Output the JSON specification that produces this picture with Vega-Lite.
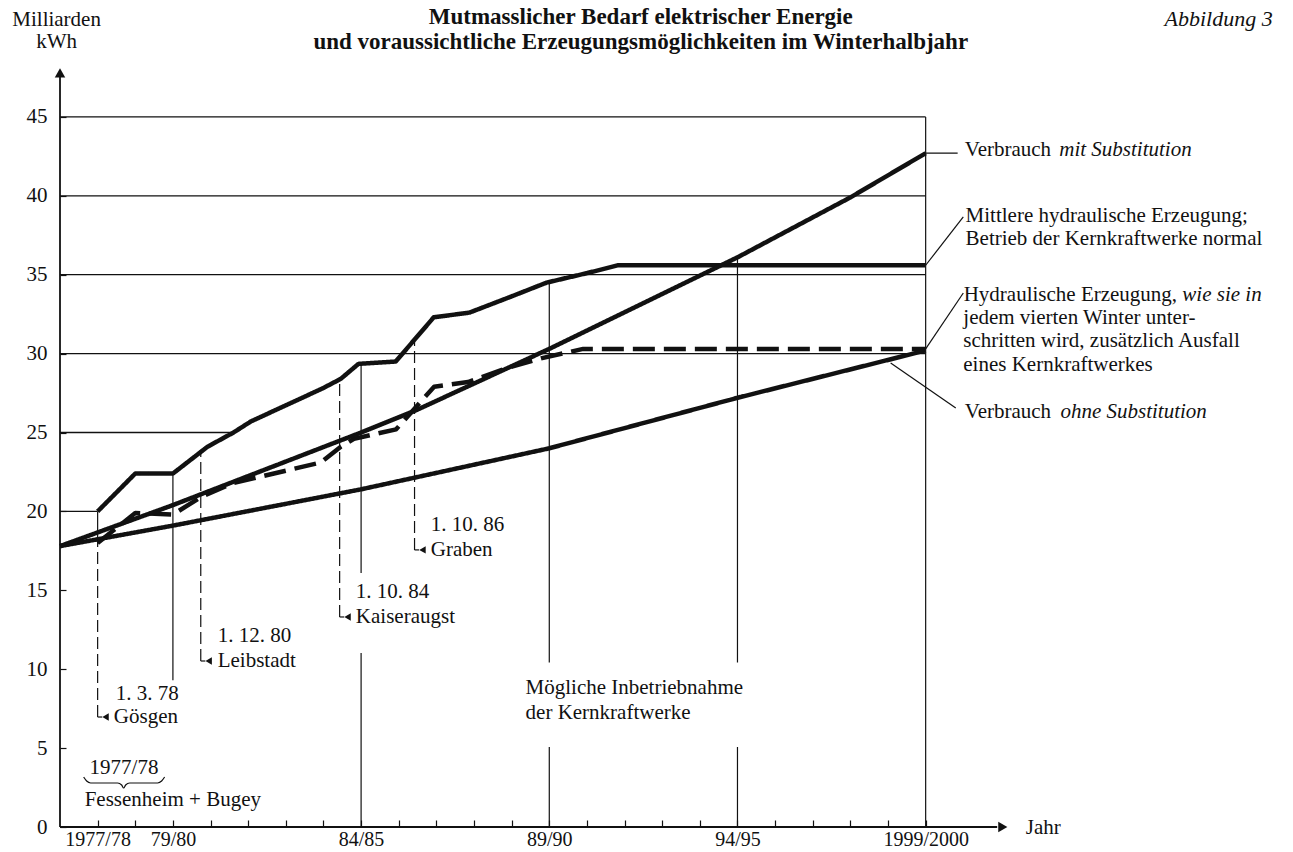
{
  "$schema": "https://vega.github.io/schema/vega-lite/v6.json",
  "width": 1233,
  "height": 827,
  "autosize": "none",
  "padding": {"left": 60, "top": 0, "right": 0, "bottom": 25},
  "background": "white",
  "config": {
    "view": {"stroke": null},
    "text": {"font": "Liberation Serif", "fontSize": 21, "color": "#111"}
  },
  "datasets": {
    "series": [
      {"series": "normal", "x": 0, "y": 20.0},
      {"series": "normal", "x": 1, "y": 22.4},
      {"series": "normal", "x": 2, "y": 22.4},
      {"series": "normal", "x": 2.92, "y": 24.1},
      {"series": "normal", "x": 3.61, "y": 25.0},
      {"series": "normal", "x": 4.07, "y": 25.7},
      {"series": "normal", "x": 5.98, "y": 27.8},
      {"series": "normal", "x": 6.46, "y": 28.4},
      {"series": "normal", "x": 6.93, "y": 29.35},
      {"series": "normal", "x": 7.92, "y": 29.5},
      {"series": "normal", "x": 8.93, "y": 32.3},
      {"series": "normal", "x": 9.88, "y": 32.6},
      {"series": "normal", "x": 10.97, "y": 33.6},
      {"series": "normal", "x": 11.93, "y": 34.5},
      {"series": "normal", "x": 13, "y": 35.1},
      {"series": "normal", "x": 13.83, "y": 35.6},
      {"series": "normal", "x": 22, "y": 35.6},
      {"series": "trocken", "x": 0, "y": 18.0},
      {"series": "trocken", "x": 1, "y": 19.9},
      {"series": "trocken", "x": 2, "y": 19.8},
      {"series": "trocken", "x": 2.74, "y": 20.9},
      {"series": "trocken", "x": 3.6, "y": 21.8},
      {"series": "trocken", "x": 5.93, "y": 23.1},
      {"series": "trocken", "x": 6.46, "y": 24.1},
      {"series": "trocken", "x": 6.81, "y": 24.6},
      {"series": "trocken", "x": 7.93, "y": 25.2},
      {"series": "trocken", "x": 8.6, "y": 27.0},
      {"series": "trocken", "x": 8.94, "y": 27.9},
      {"series": "trocken", "x": 9.84, "y": 28.2},
      {"series": "trocken", "x": 10.9, "y": 29.1},
      {"series": "trocken", "x": 11.78, "y": 29.7},
      {"series": "trocken", "x": 12.9, "y": 30.3},
      {"series": "trocken", "x": 22, "y": 30.3},
      {"series": "mit", "x": -1, "y": 17.8},
      {"series": "mit", "x": 2, "y": 20.4},
      {"series": "mit", "x": 7, "y": 25.0},
      {"series": "mit", "x": 8.45, "y": 26.4},
      {"series": "mit", "x": 12, "y": 30.3},
      {"series": "mit", "x": 17, "y": 36.1},
      {"series": "mit", "x": 20, "y": 39.9},
      {"series": "mit", "x": 22, "y": 42.7},
      {"series": "ohne", "x": -1, "y": 17.8},
      {"series": "ohne", "x": 2, "y": 19.1},
      {"series": "ohne", "x": 7, "y": 21.4},
      {"series": "ohne", "x": 12, "y": 24.0},
      {"series": "ohne", "x": 17, "y": 27.2},
      {"series": "ohne", "x": 22, "y": 30.2}
    ],
    "grid": [
      {"y": 20, "x": -1, "x2": 0},
      {"y": 25, "x": -1, "x2": 3.61},
      {"y": 30, "x": -1, "x2": 22},
      {"y": 35, "x": -1, "x2": 22},
      {"y": 40, "x": -1, "x2": 22},
      {"y": 45, "x": -1, "x2": 22}
    ],
    "vsolid": [
      {"x": 0, "y": 18.0, "y2": 20},
      {"x": 2, "y": 9.3, "y2": 22.4},
      {"x": 7, "y": 16.1, "y2": 29.36},
      {"x": 7, "y": 0, "y2": 11.03},
      {"x": 12, "y": 10.43, "y2": 34.55},
      {"x": 12, "y": 0, "y2": 5.07},
      {"x": 17, "y": 10.43, "y2": 36.1},
      {"x": 17, "y": 0, "y2": 5.07},
      {"x": 22, "y": 0, "y2": 45}
    ],
    "vdash": [
      {"x": 0, "y": 6.97, "y2": 18.0},
      {"x": 2.74, "y": 10.52, "y2": 23.8},
      {"x": 6.43, "y": 13.31, "y2": 28.35},
      {"x": 8.42, "y": 17.56, "y2": 30.9}
    ],
    "leaders": [
      {"x": 22, "y": 42.7, "x2": 22.85, "y2": 42.7},
      {"x": 22, "y": 35.6, "x2": 23.0, "y2": 38.66},
      {"x": 22, "y": 30.3, "x2": 23.0, "y2": 33.84},
      {"x": 21.07, "y": 29.41, "x2": 22.8, "y2": 26.56},
      {"x": 0, "y": 6.97, "x2": 0.12, "y2": 6.97},
      {"x": 2.74, "y": 10.52, "x2": 2.86, "y2": 10.52},
      {"x": 6.43, "y": 13.31, "x2": 6.55, "y2": 13.31},
      {"x": 8.42, "y": 17.56, "x2": 8.54, "y2": 17.56}
    ],
    "axes": [
      {"x": -1, "y": 0, "x2": 23.9, "y2": 0},
      {"x": -1, "y": 0, "x2": -1, "y2": 47.6}
    ],
    "hooks": [
      {"x": 0.21, "y": 6.97},
      {"x": 2.95, "y": 10.52},
      {"x": 6.64, "y": 13.31},
      {"x": 8.63, "y": 17.56}
    ],
    "arrowRight": [{"x": 24.05, "y": 0}],
    "arrowUp": [{"x": -1, "y": 47.79}],
    "brace": [
      {"x": -0.372, "y": 3.169},
      {"x": -0.292, "y": 2.915},
      {"x": -0.186, "y": 2.789},
      {"x": 0.531, "y": 2.789},
      {"x": 0.638, "y": 2.662},
      {"x": 0.691, "y": 2.472},
      {"x": 0.744, "y": 2.662},
      {"x": 0.85, "y": 2.789},
      {"x": 1.594, "y": 2.789},
      {"x": 1.7, "y": 2.915},
      {"x": 1.78, "y": 3.169}
    ],
    "txtLeft": [
      {"x": 23.04, "y": 42.91, "t": "Verbrauch"},
      {"x": 23.06, "y": 38.72, "t": "Mittlere hydraulische Erzeugung;"},
      {"x": 23.06, "y": 37.26, "t": "Betrieb der Kernkraftwerke normal"},
      {"x": 23.01, "y": 33.72, "t": "Hydraulische Erzeugung,"},
      {"x": 23.0, "y": 32.26, "t": "jedem vierten Winter unter-"},
      {"x": 23.0, "y": 30.8, "t": "schritten wird, zusätzlich Ausfall"},
      {"x": 23.0, "y": 29.28, "t": "eines Kernkraftwerkes"},
      {"x": 23.04, "y": 26.3, "t": "Verbrauch"},
      {"x": 0.48, "y": 8.43, "t": "1. 3. 78"},
      {"x": 0.43, "y": 6.97, "t": "Gösgen"},
      {"x": 3.19, "y": 12.1, "t": "1. 12. 80"},
      {"x": 3.19, "y": 10.52, "t": "Leibstadt"},
      {"x": 6.86, "y": 14.89, "t": "1. 10. 84"},
      {"x": 6.86, "y": 13.31, "t": "Kaiseraugst"},
      {"x": 8.85, "y": 19.14, "t": "1. 10. 86"},
      {"x": 8.85, "y": 17.56, "t": "Graben"},
      {"x": 11.37, "y": 8.81, "t": "Mögliche Inbetriebnahme"},
      {"x": 11.37, "y": 7.23, "t": "der Kernkraftwerke"},
      {"x": -0.345, "y": 1.71, "t": "Fessenheim + Bugey"},
      {"x": 24.66, "y": -0.05, "t": "Jahr"}
    ],
    "txtItalic": [
      {"x": 25.55, "y": 42.91, "t": "mit Substitution"},
      {"x": 28.82, "y": 33.72, "t": "wie sie in"},
      {"x": 25.58, "y": 26.3, "t": "ohne Substitution"}
    ],
    "txtCenter": [
      {"x": -1.09, "y": 51.15, "t": "Milliarden"},
      {"x": -1.09, "y": 49.75, "t": "kWh"},
      {"x": 0.7, "y": 3.74, "t": "1977/78"}
    ],
    "title": [
      {"x": 14.43, "y": 51.34, "t": "Mutmasslicher Bedarf elektrischer Energie"},
      {"x": 14.43, "y": 49.75, "t": "und voraussichtliche Erzeugungsmöglichkeiten im Winterhalbjahr"}
    ],
    "fig": [
      {"x": 31.22, "y": 51.21, "t": "Abbildung 3"}
    ]
  },
  "layer": [
    {
      "data": {"name": "grid"},
      "mark": {"type": "rule", "color": "#111", "strokeWidth": 1.3},
      "encoding": {
        "x": {"field": "x", "type": "quantitative", "scale": {"domain": [-1, 31.76], "nice": false, "zero": false},
          "axis": {"values": [0,1,2,3,4,5,6,7,8,9,10,11,12,13,14,15,16,17,18,19,20,21,22],
            "labelExpr": "datum.value==0?'1977/78':datum.value==2?'79/80':datum.value==7?'84/85':datum.value==12?'89/90':datum.value==17?'94/95':datum.value==22?'1999/2000':''",
            "tickSize": -7, "tickColor": "#111", "tickWidth": 1.2, "domain": false, "grid": false,
            "labelFont": "Liberation Serif", "labelFontSize": 20, "labelColor": "#111", "labelPadding": 9,
            "labelOverlap": false, "labelFlush": false, "title": null}},
        "x2": {"field": "x2"},
        "y": {"field": "y", "type": "quantitative", "scale": {"domain": [0, 52.41], "nice": false, "zero": false},
          "axis": {"values": [0,5,10,15,20,25,30,35,40,45], "tickSize": -6, "tickColor": "#111", "tickWidth": 1.2,
            "domain": false, "grid": false, "labelFont": "Liberation Serif", "labelFontSize": 21, "labelColor": "#111",
            "labelPadding": 19, "title": null}}
      }
    },
    {
      "data": {"name": "vsolid"},
      "mark": {"type": "rule", "color": "#111", "strokeWidth": 1.2},
      "encoding": {
        "x": {"field": "x", "type": "quantitative", "scale": {"domain": [-1, 31.76], "nice": false, "zero": false}},
        "y": {"field": "y", "type": "quantitative", "scale": {"domain": [0, 52.41], "nice": false, "zero": false}},
        "y2": {"field": "y2"}
      }
    },
    {
      "data": {"name": "vdash"},
      "mark": {"type": "rule", "color": "#111", "strokeWidth": 1.2, "strokeDash": [12, 5]},
      "encoding": {
        "x": {"field": "x", "type": "quantitative", "scale": {"domain": [-1, 31.76], "nice": false, "zero": false}},
        "y": {"field": "y", "type": "quantitative", "scale": {"domain": [0, 52.41], "nice": false, "zero": false}},
        "y2": {"field": "y2"}
      }
    },
    {
      "data": {"name": "leaders"},
      "mark": {"type": "rule", "color": "#111", "strokeWidth": 1.2},
      "encoding": {
        "x": {"field": "x", "type": "quantitative", "scale": {"domain": [-1, 31.76], "nice": false, "zero": false}},
        "x2": {"field": "x2"},
        "y": {"field": "y", "type": "quantitative", "scale": {"domain": [0, 52.41], "nice": false, "zero": false}},
        "y2": {"field": "y2"}
      }
    },
    {
      "data": {"name": "axes"},
      "mark": {"type": "rule", "color": "#111", "strokeWidth": 1.8},
      "encoding": {
        "x": {"field": "x", "type": "quantitative", "scale": {"domain": [-1, 31.76], "nice": false, "zero": false}},
        "x2": {"field": "x2"},
        "y": {"field": "y", "type": "quantitative", "scale": {"domain": [0, 52.41], "nice": false, "zero": false}},
        "y2": {"field": "y2"}
      }
    },
    {
      "data": {"name": "series"},
      "mark": {"type": "line", "color": "#111", "strokeJoin": "round"},
      "encoding": {
        "x": {"field": "x", "type": "quantitative", "scale": {"domain": [-1, 31.76], "nice": false, "zero": false}},
        "y": {"field": "y", "type": "quantitative", "scale": {"domain": [0, 52.41], "nice": false, "zero": false}},
        "detail": {"field": "series"},
        "strokeWidth": {"field": "series", "type": "ordinal", "scale": {"domain": ["normal", "trocken", "mit", "ohne"], "range": [4.5, 4.5, 2.1, 1.8]}, "legend": null},
        "strokeDash": {"field": "series", "type": "nominal", "scale": {"domain": ["normal", "trocken", "mit", "ohne"], "range": [[1, 0], [22, 9], [1, 0], [1, 0]]}, "legend": null}
      }
    },
    {
      "data": {"name": "brace"},
      "mark": {"type": "line", "color": "#111", "strokeWidth": 1.2, "interpolate": "monotone"},
      "encoding": {
        "x": {"field": "x", "type": "quantitative", "scale": {"domain": [-1, 31.76], "nice": false, "zero": false}},
        "y": {"field": "y", "type": "quantitative", "scale": {"domain": [0, 52.41], "nice": false, "zero": false}}
      }
    },
    {
      "data": {"name": "hooks"},
      "mark": {"type": "point", "shape": "triangle-left", "filled": true, "color": "#111", "size": 55, "opacity": 1},
      "encoding": {
        "x": {"field": "x", "type": "quantitative", "scale": {"domain": [-1, 31.76], "nice": false, "zero": false}},
        "y": {"field": "y", "type": "quantitative", "scale": {"domain": [0, 52.41], "nice": false, "zero": false}}
      }
    },
    {
      "data": {"name": "arrowRight"},
      "mark": {"type": "point", "shape": "triangle-right", "filled": true, "color": "#111", "size": 110, "opacity": 1},
      "encoding": {
        "x": {"field": "x", "type": "quantitative", "scale": {"domain": [-1, 31.76], "nice": false, "zero": false}},
        "y": {"field": "y", "type": "quantitative", "scale": {"domain": [0, 52.41], "nice": false, "zero": false}}
      }
    },
    {
      "data": {"name": "arrowUp"},
      "mark": {"type": "point", "shape": "triangle-up", "filled": true, "color": "#111", "size": 110, "opacity": 1},
      "encoding": {
        "x": {"field": "x", "type": "quantitative", "scale": {"domain": [-1, 31.76], "nice": false, "zero": false}},
        "y": {"field": "y", "type": "quantitative", "scale": {"domain": [0, 52.41], "nice": false, "zero": false}}
      }
    },
    {
      "data": {"name": "txtLeft"},
      "mark": {"type": "text", "align": "left", "baseline": "middle", "font": "Liberation Serif", "fontSize": 21, "color": "#111"},
      "encoding": {
        "x": {"field": "x", "type": "quantitative", "scale": {"domain": [-1, 31.76], "nice": false, "zero": false}},
        "y": {"field": "y", "type": "quantitative", "scale": {"domain": [0, 52.41], "nice": false, "zero": false}},
        "text": {"field": "t"}
      }
    },
    {
      "data": {"name": "txtItalic"},
      "mark": {"type": "text", "align": "left", "baseline": "middle", "font": "Liberation Serif", "fontStyle": "italic", "fontSize": 21, "color": "#111"},
      "encoding": {
        "x": {"field": "x", "type": "quantitative", "scale": {"domain": [-1, 31.76], "nice": false, "zero": false}},
        "y": {"field": "y", "type": "quantitative", "scale": {"domain": [0, 52.41], "nice": false, "zero": false}},
        "text": {"field": "t"}
      }
    },
    {
      "data": {"name": "txtCenter"},
      "mark": {"type": "text", "align": "center", "baseline": "middle", "font": "Liberation Serif", "fontSize": 21, "color": "#111"},
      "encoding": {
        "x": {"field": "x", "type": "quantitative", "scale": {"domain": [-1, 31.76], "nice": false, "zero": false}},
        "y": {"field": "y", "type": "quantitative", "scale": {"domain": [0, 52.41], "nice": false, "zero": false}},
        "text": {"field": "t"}
      }
    },
    {
      "data": {"name": "title"},
      "mark": {"type": "text", "align": "center", "baseline": "middle", "font": "Liberation Serif", "fontWeight": "bold", "fontSize": 23, "color": "#111"},
      "encoding": {
        "x": {"field": "x", "type": "quantitative", "scale": {"domain": [-1, 31.76], "nice": false, "zero": false}},
        "y": {"field": "y", "type": "quantitative", "scale": {"domain": [0, 52.41], "nice": false, "zero": false}},
        "text": {"field": "t"}
      }
    },
    {
      "data": {"name": "fig"},
      "mark": {"type": "text", "align": "right", "baseline": "middle", "font": "Liberation Serif", "fontStyle": "italic", "fontSize": 22, "color": "#111"},
      "encoding": {
        "x": {"field": "x", "type": "quantitative", "scale": {"domain": [-1, 31.76], "nice": false, "zero": false}},
        "y": {"field": "y", "type": "quantitative", "scale": {"domain": [0, 52.41], "nice": false, "zero": false}},
        "text": {"field": "t"}
      }
    }
  ]
}
